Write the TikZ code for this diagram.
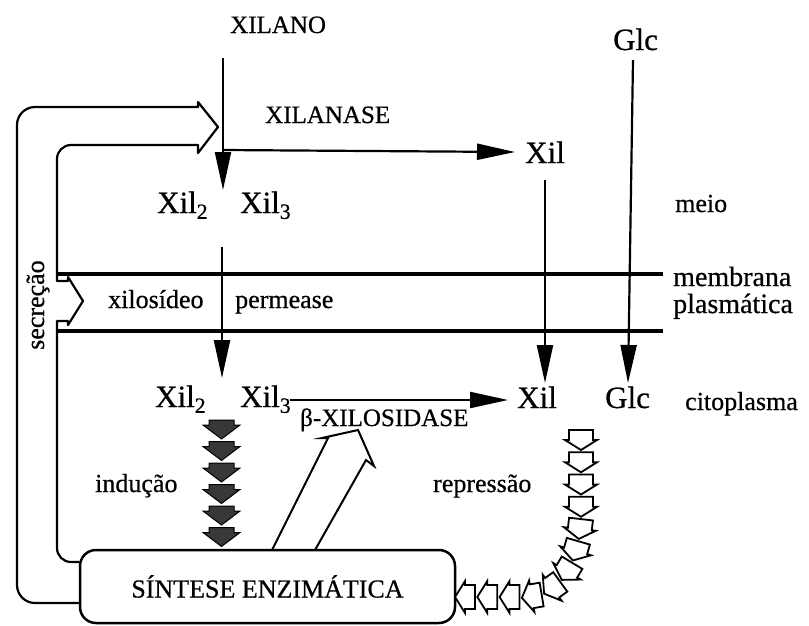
\documentclass[tikz,border=0pt]{standalone}
\usepackage{fontspec}
\setmainfont[FakeBold=0.6]{Liberation Serif}
\usetikzlibrary{arrows.meta,decorations.markings,calc}

\begin{document}
\begin{tikzpicture}[x=1pt,y=-1pt,
  txt/.style={inner sep=0pt, anchor=base west, font=\fontsize{26}{28}\selectfont},
  big/.style={txt, font=\fontsize{31}{33}\selectfont},
  caps/.style={txt, font=\fontsize{25}{28}\selectfont},
  memtxt/.style={txt, font=\fontsize{28}{28}\selectfont},
  flow/.style={line width=2.2pt, -{Triangle[length=38pt,width=16pt]}},
  membr/.style={line width=3.5pt},
  bandline/.style={line width=2.2pt, line cap=round, line join=round},
  blockdark/.style={draw=black, line width=1pt, fill=black!78, line join=miter},
  blockopen/.style={draw=black, line width=1.8pt, fill=white, line join=miter},
]
\useasboundingbox (0,0) rectangle (809,625);

% labels outside the cell
\node[caps] (xilano)   at (230,33)  {XILANO};
\node[caps] (xilanase) at (265,123) {XILANASE};
\node[big]  (glcOut)   at (613,50)  {Glc};
\node[big]  (xilOut)   at (525,163) {Xil};
\node[big]  (xil2Out)  at (157,213) {Xil\textsubscript{2}};
\node[big]  (xil3Out)  at (240,213) {Xil\textsubscript{3}};
\node[txt]  (meio)     at (675,212) {meio};

% membrane
\draw[membr] (57,274) -- (663,274);
\draw[membr] (57,331) -- (663,331);
\node[memtxt] (membrana) at (673,286) {membrana};
\node[memtxt] (plasm)    at (673,313) {plasmática};
\node[txt] (xilosideo) at (108,308) {xilosídeo};
\node[txt] (permease)  at (235,308) {permease};

% labels inside the cell
\node[big] (xil2In) at (155,407) {Xil\textsubscript{2}};
\node[big] (xil3In) at (240,407) {Xil\textsubscript{3}};
\node[big] (xilIn)  at (517,408) {Xil};
\node[big] (glcIn)  at (605,408) {Glc};
\node[txt] (cito)   at (685,410) {citoplasma};
\node[caps] (bxil)  at (300,426) {β-XILOSIDASE};
\node[txt] (inducao)   at (95,492)  {indução};
\node[txt] (repressao) at (433,492) {repressão};
\node[txt, rotate=90] (secrecao) at (44,350) {secreção};

% transport and hydrolysis arrows
\coordinate (xilanoTop) at (223,58);
\coordinate (xilanoTip) at (223,190);
\draw[flow] (xilanoTop) -- (xilanoTip);
\coordinate (hydStart) at (223,150);
\coordinate (hydTip)   at (515,152);
\draw[flow] (hydStart) -- (hydTip);
\coordinate (xilTop) at (545,180);
\coordinate (xilTip) at (545,383);
\draw[flow] (xilTop) -- (xilTip);
\coordinate (glcTop) at (633,60);
\coordinate (glcTip) at (628,383);
\draw[flow] (glcTop) -- (glcTip);
\coordinate (oligoTop) at (222,247);
\coordinate (oligoTip) at (222,378);
\draw[flow] (oligoTop) -- (oligoTip);
\coordinate (bStart) at (290,400);
\coordinate (bTip)   at (508,400);
\draw[flow] (bStart) -- (bTip);

% induction
\foreach \yy in {420,441.5,463,484.5,506,527.5}
  \draw[blockdark, shift={(221.5,\yy)}]
    (-12.5,0) -- (12.5,0) -- (12.5,5) -- (18.5,5) -- (0,19) -- (-18.5,5) -- (-12.5,5) -- cycle;

% synthesis of beta-xylosidase
\draw[blockopen, line width=2pt]
  (272,550) -- (328,438) -- (322,438) -- (358,430) -- (374,466) -- (366,460) -- (315,550);

% enzyme synthesis box
\node[draw, line width=2.5pt, rounded corners=16pt, minimum width=375pt,
      minimum height=73pt, inner sep=0pt, font=\fontsize{26}{28}\selectfont]
      (synth) at (267.5,586.5) {SÍNTESE ENZIMÁTICA};

% repression
\path[decorate, decoration={markings,
      mark=between positions 0 and 1 step 0.0909 with {
        \draw[blockopen] (-10,-12) -- (0,-12) -- (0,-16) -- (10,0) -- (0,16) -- (0,12) -- (-10,12) -- cycle;}}]
  (581,440) -- (581,508) .. controls (581,560) and (562,597) .. (522,597) -- (465,597);

% secretion band
\draw[bandline, rounded corners=18pt]
  ($(synth.west)+(0,16.5)$) -- (17,603) -- (17,107) -- (198,107);
\draw[bandline]
  (198,107) -- (198,102) -- (218,127) -- (198,153) -- (198,145);
\draw[bandline, rounded corners=14pt]
  (198,145) -- (57,145) -- (57,274);
\draw[bandline]
  (57,274) -- (57,281) -- (68,281) -- (68,277) -- (83,301) -- (68,325) -- (68,321) -- (57,321) -- (57,331);
\draw[bandline, rounded corners=14pt]
  (57,331) -- (57,562) -- ($(synth.west)+(0,-24.5)$);
\end{tikzpicture}
\end{document}
